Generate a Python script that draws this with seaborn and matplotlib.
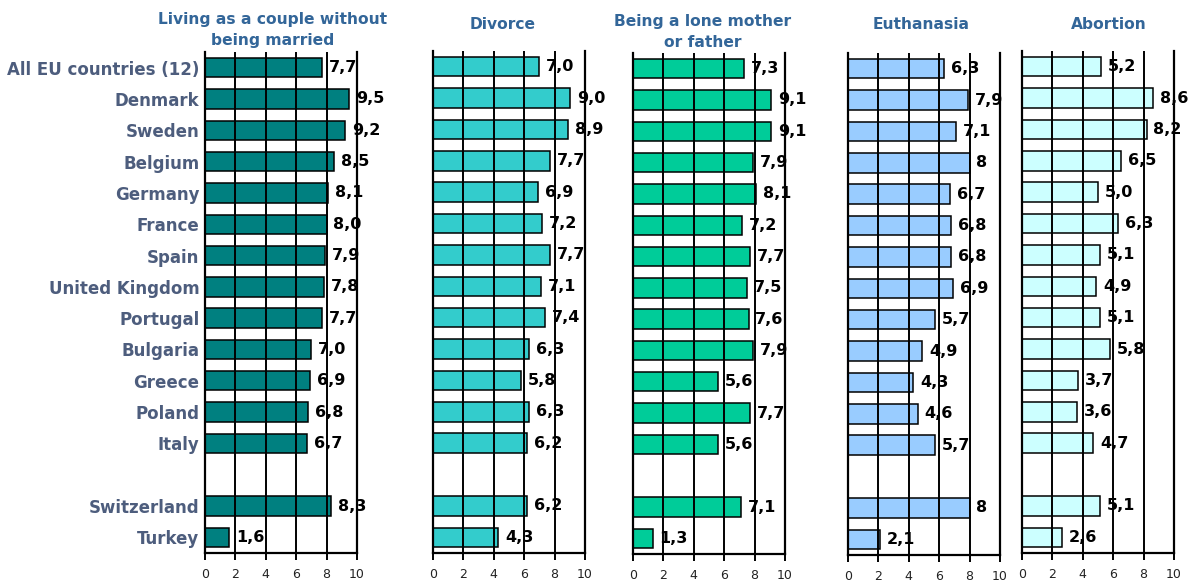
import numpy as np
import pandas as pd
import matplotlib
matplotlib.use("Agg")
import matplotlib.pyplot as plt
import seaborn as sns

sns.set_theme(style="white")
plt.rcParams["font.family"] = ["DejaVu Sans"]

# Countries, top to bottom; the blank entry leaves an empty row before the non-EU countries
countries = ["All EU countries (12)", "Denmark", "Sweden", "Belgium", "Germany",
             "France", "Spain", "United Kingdom", "Portugal", "Bulgaria",
             "Greece", "Poland", "Italy", " ", "Switzerland", "Turkey"]

titles = ["Living as a couple without\nbeing married", "Divorce",
          "Being a lone mother\nor father", "Euthanasia", "Abortion"]

couple_values = [7.7, 9.5, 9.2, 8.5, 8.1, 8.0, 7.9, 7.8, 7.7, 7.0, 6.9, 6.8, 6.7, np.nan, 8.3, 1.6]
divorce_values = [7.0, 9.0, 8.9, 7.7, 6.9, 7.2, 7.7, 7.1, 7.4, 6.3, 5.8, 6.3, 6.2, np.nan, 6.2, 4.3]
lone_parent_values = [7.3, 9.1, 9.1, 7.9, 8.1, 7.2, 7.7, 7.5, 7.6, 7.9, 5.6, 7.7, 5.6, np.nan, 7.1, 1.3]
euthanasia_values = [6.3, 7.9, 7.1, 8.0, 6.7, 6.8, 6.8, 6.9, 5.7, 4.9, 4.3, 4.6, 5.7, np.nan, 8.0, 2.1]
abortion_values = [5.2, 8.6, 8.2, 6.5, 5.0, 6.3, 5.1, 4.9, 5.1, 5.8, 3.7, 3.6, 4.7, np.nan, 5.1, 2.6]

# Printed labels (Euthanasia shows whole numbers without a decimal)
couple_labels = ["7,7", "9,5", "9,2", "8,5", "8,1", "8,0", "7,9", "7,8", "7,7", "7,0", "6,9", "6,8", "6,7", "", "8,3", "1,6"]
divorce_labels = ["7,0", "9,0", "8,9", "7,7", "6,9", "7,2", "7,7", "7,1", "7,4", "6,3", "5,8", "6,3", "6,2", "", "6,2", "4,3"]
lone_parent_labels = ["7,3", "9,1", "9,1", "7,9", "8,1", "7,2", "7,7", "7,5", "7,6", "7,9", "5,6", "7,7", "5,6", "", "7,1", "1,3"]
euthanasia_labels = ["6,3", "7,9", "7,1", "8", "6,7", "6,8", "6,8", "6,9", "5,7", "4,9", "4,3", "4,6", "5,7", "", "8", "2,1"]
abortion_labels = ["5,2", "8,6", "8,2", "6,5", "5,0", "6,3", "5,1", "4,9", "5,1", "5,8", "3,7", "3,6", "4,7", "", "5,1", "2,6"]

x_ticks = [0, 2, 4, 6, 8, 10]

series = [couple_values, divorce_values, lone_parent_values, euthanasia_values, abortion_values]
labels = [couple_labels, divorce_labels, lone_parent_labels, euthanasia_labels, abortion_labels]
colors = ["#008080", "#33CCCC", "#00CC99", "#99CCFF", "#CCFFFF"]

W, H = 1190, 581
fig = plt.figure(figsize=(W / 100, H / 100), dpi=100)

left_px = [205, 433, 633, 848, 1022]
top_px = [52, 51, 53, 53, 51]
bottom_px = [553, 553, 554, 555, 553]
width_px = 152
title_dx = [-8, -6, -6, -3, 11]
title_top = [12, 17, 14, 17, 17]

title_color = "#336699"
label_color = "#4D5D7D"

for i in range(5):
    ax = fig.add_axes([left_px[i] / W, 1 - bottom_px[i] / H, width_px / W,
                       (bottom_px[i] - top_px[i]) / H])
    df = pd.DataFrame({"country": countries, "value": series[i]})
    sns.barplot(data=df, x="value", y="country", order=countries, orient="h",
                color=colors[i], saturation=1, width=0.62, edgecolor="black",
                linewidth=1.1, ax=ax, zorder=3)
    ax.set_xlim(0, 10)
    ax.set_ylim(len(countries) - 0.5, -0.5)
    ax.set_xlabel("")
    ax.set_ylabel("")
    ax.set_xticks(x_ticks)
    ax.set_xticklabels([str(t) for t in x_ticks], fontsize=9, color="#222222")
    ax.tick_params(axis="x", direction="out", length=5, width=1.4, color="black", pad=6, bottom=True)
    ax.tick_params(axis="y", length=0)

    for t in [2, 4, 6, 8]:
        ax.axvline(t, color="black", linewidth=1.4, zorder=4)

    for side in ["left", "right", "bottom"]:
        ax.spines[side].set_visible(True)
        ax.spines[side].set_color("black")
        ax.spines[side].set_linewidth(1.6)
        ax.spines[side].set_zorder(5)
    ax.spines["top"].set_visible(False)

    if i == 0:
        ax.set_yticks(range(len(countries)))
        ax.set_yticklabels(countries, fontsize=12, fontweight="bold", color=label_color)
        ax.tick_params(axis="y", pad=4)
    else:
        ax.set_yticks([])

    for j, (v, lab) in enumerate(zip(series[i], labels[i])):
        if lab:
            ax.text(v + 0.45, j, lab, ha="left", va="center", fontsize=11.5,
                    fontweight="bold", color="black", zorder=3.5)

    cx = (left_px[i] + width_px / 2 + title_dx[i]) / W
    fig.text(cx, 1 - title_top[i] / H, titles[i], ha="center", va="top", fontsize=11.2,
             fontweight="bold", color=title_color, linespacing=1.5)

fig.savefig("out.png", dpi=100)
